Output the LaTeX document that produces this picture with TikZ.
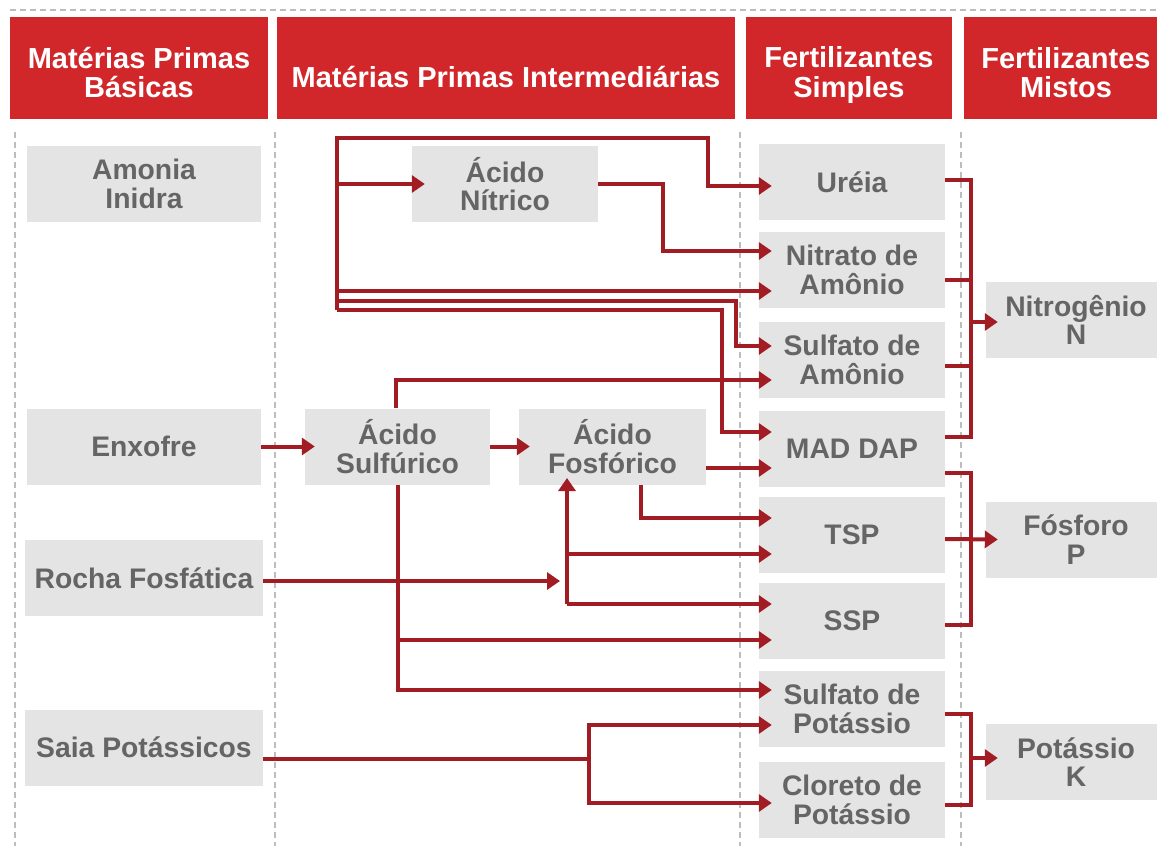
\documentclass[tikz,border=0pt]{standalone}
\usepackage{fontspec}
\setmainfont{Liberation Sans}
\usetikzlibrary{arrows.meta}
\definecolor{hdrred}{HTML}{D1262A}
\definecolor{wirered}{HTML}{A21D23}
\definecolor{boxgray}{HTML}{E4E4E4}
\definecolor{txtgray}{HTML}{656565}
\definecolor{sepgray}{HTML}{BDBDBD}

\begin{document}
\begin{tikzpicture}[x=1pt, y=-1pt,
    hdr/.style={fill=hdrred, inner sep=0pt, minimum height=102pt},
    hdrtext/.style={text=white, inner sep=0pt, align=center, font=\fontsize{29}{29}\selectfont\bfseries},
    item/.style={fill=boxgray, text=txtgray, inner sep=0pt, minimum height=76pt, align=center, font=\fontsize{28.3}{28.5}\selectfont\bfseries},
    sep/.style={draw=sepgray, line width=1.3pt, dash pattern=on 6pt off 4pt},
    wire/.style={draw=wirered, line width=4pt},
    flow/.style={wire, -{Triangle[length=13pt, width=17pt]}}]

            \useasboundingbox (0,0) rectangle (1157,846);

            % column separators
            \draw[sep] (10,10) -- (1157,10);
            \draw[sep] (15,132) -- (15,846);
            \draw[sep] (275,132) -- (275,846);
            \draw[sep] (740,132) -- (740,846);
            \draw[sep] (961,132) -- (961,846);

            % headers
            \node[hdr, minimum width=258pt] (hBas) at (139,68) {};
            \node[hdrtext] at ([yshift=-5pt]hBas) {Matérias Primas\\Básicas};
            \node[hdr, minimum width=458pt] (hInt) at (506,68) {};
            \node[hdrtext] at ([yshift=-9pt]hInt) {Matérias Primas Intermediárias};
            \node[hdr, minimum width=206pt] (hSim) at (849,68) {};
            \node[hdrtext] at ([yshift=-7pt]hSim) {Fertilizantes\\Simples};
            \node[hdr, minimum width=204pt] (hMis) at (1066,68) {};
            \node[hdrtext] at ([yshift=-5pt]hMis) {Fertilizantes\\Mistos};

            % basic raw materials
            \node[item, minimum width=234pt] (amonia) at (144,184) {Amonia\\Inidra};
            \node[item, minimum width=234pt] (enxofre) at (144,446.5) {Enxofre};
            \node[item, minimum width=238pt] (rocha) at (144,578) {Rocha Fosfática};
            \node[item, minimum width=238pt] (saia) at (144,747.5) {Saia Potássicos};

            % intermediate raw materials
            \node[item, minimum width=186pt] (nitrico) at (505,184) {Ácido\\Nítrico};
            \node[item, minimum width=185pt] (sulfurico) at (397.5,446.5) {Ácido\\Sulfúrico};
            \node[item, minimum width=187pt] (fosforico) at (612.5,446.5) {Ácido\\Fosfórico};

            % simple fertilizers
            \node[item, minimum width=186pt] (urea) at (852,182) {Uréia};
            \node[item, minimum width=186pt] (nitrato) at (852,270) {Nitrato de\\Amônio};
            \node[item, minimum width=186pt] (sulfam) at (852,360) {Sulfato de\\Amônio};
            \node[item, minimum width=186pt] (maddap) at (852,449) {MAD DAP};
            \node[item, minimum width=186pt] (tsp) at (852,535) {TSP};
            \node[item, minimum width=186pt] (ssp) at (852,621) {SSP};
            \node[item, minimum width=186pt] (sulfpot) at (852,709) {Sulfato de\\Potássio};
            \node[item, minimum width=186pt] (cloreto) at (852,800) {Cloreto de\\Potássio};

            % mixed fertilizers
            \node[item, minimum width=180pt] (nitro) at (1076,320) {Nitrogênio\\N};
            \node[item, minimum width=180pt] (fosf) at (1076,539.5) {Fósforo\\P};
            \node[item, minimum width=180pt] (potas) at (1076,762) {Potássio\\K};

            % arrow ends on the simple fertilizers
            \coordinate (uriaIn) at ([xshift=13pt, yshift=-4pt]urea.west);
            \coordinate (nitIn1) at ([xshift=13pt, yshift=19pt]nitrato.west);
            \coordinate (nitIn2) at ([xshift=13pt, yshift=-21pt]nitrato.west);
            \coordinate (samIn1) at ([xshift=13pt, yshift=14pt]sulfam.west);
            \coordinate (samIn2) at ([xshift=13pt, yshift=-20pt]sulfam.west);
            \coordinate (madIn1) at ([xshift=13pt, yshift=17pt]maddap.west);
            \coordinate (madIn2) at ([xshift=13pt, yshift=-19pt]maddap.west);
            \coordinate (tspIn1) at ([xshift=13pt, yshift=17pt]tsp.west);
            \coordinate (tspIn2) at ([xshift=13pt, yshift=-19pt]tsp.west);
            \coordinate (sspIn1) at ([xshift=13pt, yshift=17pt]ssp.west);
            \coordinate (sspIn2) at ([xshift=13pt, yshift=-19pt]ssp.west);
            \coordinate (spoIn1) at ([xshift=13pt, yshift=19pt]sulfpot.west);
            \coordinate (spoIn2) at ([xshift=13pt, yshift=-16pt]sulfpot.west);
            \coordinate (cloIn) at ([xshift=13pt, yshift=-3pt]cloreto.west);

            % nitrogen bus
            \coordinate (busT) at (337,138);
            \coordinate (busB) at (337,310);
            \draw[flow] (busB) -- (busT) -| ([xshift=-64pt]uriaIn) -- (uriaIn);
            \draw[flow] (busT |- nitrico.west) -- ([xshift=13pt]nitrico.west);
            \draw[flow] (nitrico.east) -| ([xshift=-109pt]nitIn1) -- (nitIn1);
            \draw[flow] (busT |- nitIn2) -- (nitIn2);
            \draw[flow] (337,301) -| ([xshift=-36pt]samIn1) -- (samIn1);
            \draw[flow] (busB) -| ([xshift=-50pt]madIn1) -- (madIn1);

            % sulfur and phosphate lines
            \draw[flow] (enxofre.east) -- ([xshift=10pt]sulfurico.west);
            \draw[flow] (sulfurico.east) -- ([xshift=11pt]fosforico.west);
            \draw[flow] ([xshift=-2pt]sulfurico.north) |- (samIn2);
            \draw[flow] (sulfurico.south) |- (spoIn1);
            \draw[flow] (sulfurico.south |- sspIn2) -- (sspIn2);
            \draw[flow] (fosforico.east |- madIn2) -- (madIn2);
            \draw[flow] ([xshift=28.5pt]fosforico.south) |- (tspIn1);

            \coordinate (fosJ) at (567,604);
            \draw[flow] ([yshift=-3pt]rocha.east) -- (560,581);
            \draw[flow] (fosJ) -- (567,478);
            \draw[flow] (fosJ |- tspIn2) -- (tspIn2);
            \draw[flow] (fosJ) -- (sspIn1);

            % potash lines
            \coordinate (potJ) at (589,759);
            \draw[wire] ([yshift=-11.5pt]saia.east) -- (potJ);
            \draw[flow] (potJ) |- (spoIn2);
            \draw[flow] (potJ) |- (cloIn);

            % brackets to mixed fertilizers
            \draw[wire] ([yshift=2pt]urea.east) -| ([xshift=26pt, yshift=12pt]maddap.east) -- ([yshift=12pt]maddap.east);
            \draw[wire] ([yshift=-10pt]nitrato.east) -- ++(26,0);
            \draw[wire] ([yshift=-6pt]sulfam.east) -- ++(26,0);
            \draw[flow] ([xshift=-15pt, yshift=-2pt]nitro.west) -- ([xshift=12pt, yshift=-2pt]nitro.west);

            \draw[wire] ([yshift=-24pt]maddap.east) -| ([xshift=26pt, yshift=-4pt]ssp.east) -- ([yshift=-4pt]ssp.east);
            \draw[flow] ([yshift=-4pt]tsp.east) -- ([xshift=12pt]fosf.west);

            \draw[wire] ([yshift=-5pt]sulfpot.east) -| ([xshift=26pt, yshift=-5pt]cloreto.east) -- ([yshift=-5pt]cloreto.east);
            \draw[flow] ([xshift=-15pt, yshift=4pt]potas.west) -- ([xshift=12pt, yshift=4pt]potas.west);
        \end{tikzpicture}
\end{document}
